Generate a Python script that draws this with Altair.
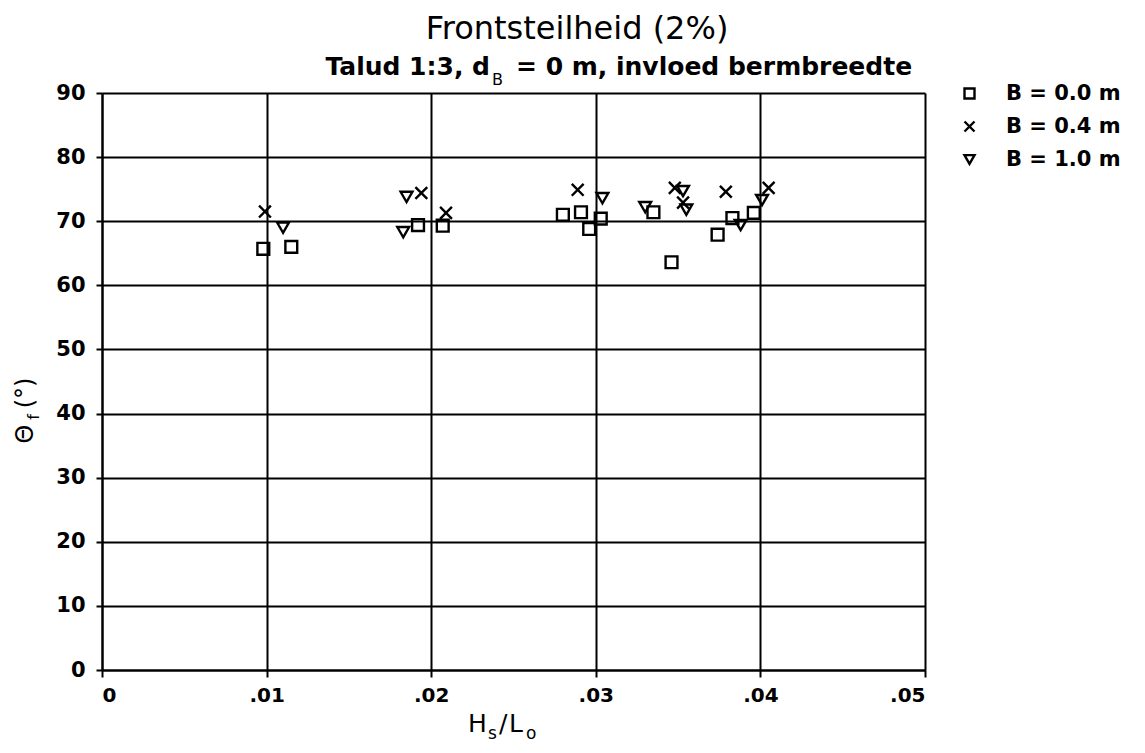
import altair as alt
import pandas as pd

# --- data ---
series_labels = ["B = 0.0 m", "B = 0.4 m", "B = 1.0 m"]

sq_x = [0.0098, 0.0115, 0.0192, 0.0207, 0.0280, 0.0291, 0.0296, 0.0303, 0.0335, 0.0346, 0.0374, 0.0383, 0.0396]
sq_y = [65.7, 66.0, 69.4, 69.3, 71.0, 71.4, 68.8, 70.4, 71.4, 63.6, 67.9, 70.5, 71.3]

cr_x = [0.0099, 0.0194, 0.0209, 0.0289, 0.0348, 0.0353, 0.0379, 0.0405]
cr_y = [71.5, 74.4, 71.3, 74.9, 75.2, 72.9, 74.6, 75.2]

tr_x = [0.0110, 0.0185, 0.0183, 0.0304, 0.0330, 0.0353, 0.0355, 0.0388, 0.0401]
tr_y = [69.0, 73.8, 68.3, 73.6, 72.2, 74.7, 71.8, 69.4, 73.3]

x_ticks = [0, 0.01, 0.02, 0.03, 0.04, 0.05]
y_ticks = [0, 10, 20, 30, 40, 50, 60, 70, 80, 90]

title_text = "Frontsteilheid (2%)"
sub_left = "Talud 1:3, d"
sub_sub = "B"
sub_right = "= 0 m, invloed bermbreedte"

rows = []
for xs, ys, lab in [(sq_x, sq_y, series_labels[0]), (cr_x, cr_y, series_labels[1]), (tr_x, tr_y, series_labels[2])]:
    for a, b in zip(xs, ys):
        rows.append({"x": a, "y": b, "series": lab})
df = pd.DataFrame(rows)

FONT = "DejaVu Sans"
W, H = 823, 577

points = alt.Chart(df).mark_point(
    filled=False, color="black", strokeWidth=2.4, size=140, opacity=1
).encode(
    x=alt.X("x:Q", scale=alt.Scale(domain=[0, 0.05], nice=False, zero=True),
            axis=alt.Axis(values=x_ticks, title=None,
                          labelExpr="datum.value == 0 ? '0' : substring(format(datum.value, '.2f'), 1)",
                          grid=True, gridColor="black", gridWidth=2, gridOpacity=1,
                          domain=True, domainColor="black", domainWidth=2,
                          ticks=True, tickColor="black", tickSize=7, tickWidth=2,
                          labelFont=FONT, labelFontWeight="bold", labelFontSize=20,
                          labelColor="black", labelPadding=8)),
    y=alt.Y("y:Q", scale=alt.Scale(domain=[0, 90], nice=False),
            axis=alt.Axis(values=y_ticks, title=None,
                          grid=True, gridColor="black", gridWidth=2, gridOpacity=1,
                          domain=True, domainColor="black", domainWidth=2,
                          ticks=True, tickColor="black", tickSize=6, tickWidth=2,
                          labelFont=FONT, labelFontWeight="bold", labelFontSize=21,
                          labelColor="black", labelPadding=11)),
    shape=alt.Shape("series:N",
                    scale=alt.Scale(domain=series_labels,
                                    range=["square", "M-1,-1L1,1M-1,1L1,-1", "triangle-down"]),
                    legend=alt.Legend(title=None, orient="none", legendX=857, legendY=-10,
                                      labelFont=FONT, labelFontWeight="bold", labelFontSize=21,
                                      labelColor="black", symbolStrokeColor="black",
                                      symbolStrokeWidth=2.4, symbolSize=100, symbolFillColor="white",
                                      rowPadding=11, labelOffset=26)),
)

def txt(s, x, y, size, weight="normal", align="center", angle=0):
    return alt.Chart(pd.DataFrame({"t": [s]})).mark_text(
        font=FONT, fontSize=size, fontWeight=weight, align=align, baseline="alphabetic",
        color="black", angle=angle
    ).encode(x=alt.value(x), y=alt.value(y), text="t:N")

layers = [
    points,
    # title and subtitle
    txt(title_text, 475, -54, 32),
    txt(sub_left, 388, -18, 25, "bold", "right"),
    txt(sub_sub, 390, -8, 16, "normal", "left"),
    txt(sub_right, 414, -18, 25, "bold", "left"),
    # x axis title H_s / L_o
    txt("H", 366, 639, 25, align="left"),
    txt("s", 386, 646, 17, align="left"),
    txt("/", 397, 639, 25, align="left"),
    txt("L", 407, 639, 25, align="left"),
    txt("o", 424, 646, 17, align="left"),
    # y axis title Θ_f(°)
    txt("Θ", -69, 341, 24, angle=270),
    txt("f", -63, 324, 16, angle=270),
    txt("(°)", -69, 300, 24, angle=270),
]

chart = alt.layer(*layers).properties(
    width=W, height=H,
    padding={"left": 94, "top": 85, "right": 212, "bottom": 75},
    autosize=alt.AutoSizeParams(type="none"),
).configure_view(stroke="black", strokeWidth=2).configure(background="white")

chart.save("out.html", embed_options={"renderer": "svg", "actions": False})
